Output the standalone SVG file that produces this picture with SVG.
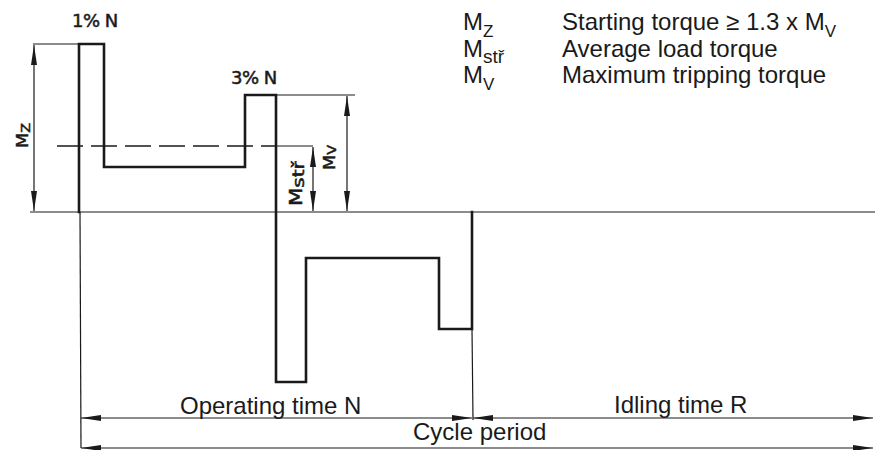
<svg xmlns="http://www.w3.org/2000/svg" width="875" height="450" viewBox="0 0 875 450">
<defs>
<marker id="ah" viewBox="0 0 20 6" refX="20" refY="3" markerWidth="20" markerHeight="6" markerUnits="userSpaceOnUse" orient="auto-start-reverse">
<path d="M0,0 L20,3 L0,6 z" fill="#1a1a1a"/>
</marker>
<style>
.wave{fill:none;stroke:#1a1a1a;stroke-width:2.6;stroke-linejoin:miter;stroke-linecap:square}
.thin{fill:none;stroke:#1a1a1a;stroke-width:1.2}
.dim{fill:none;stroke:#1a1a1a;stroke-width:1.2;marker-start:url(#ah);marker-end:url(#ah)}
.dash{fill:none;stroke:#1a1a1a;stroke-width:1.3;stroke-dasharray:26 8}
.tech{font-family:"DejaVu Sans","Liberation Sans",sans-serif;fill:#1a1a1a;stroke:#1a1a1a;stroke-width:0.5}
.lab{font-family:"Liberation Sans",Arial,sans-serif;font-size:24px;fill:#1a1a1a}
</style>
</defs>
<rect width="875" height="450" fill="#ffffff"/>

<g id="axis">
<path class="thin" d="M30,212 L875,212" stroke-width="1.5"/>
</g>

<g id="waveform">
<path class="wave" d="M79,212 L79,44 L104,44 L104,167 L245,167 L245,95 L276,95 L276,382 L306,382 L306,258 L439,258 L439,329 L472,329 L472,212"/>
</g>

<g id="connectors">
<path class="thin" d="M80,212 L81,448" stroke-width="1.6"/>
<path class="thin" d="M472,329 L473,420"/>
<path class="thin" d="M33,44 L79,44"/>
<path class="thin" d="M276,95 L355,95"/>
<path class="thin" d="M276,146 L313,146"/>
<path class="dash" d="M57,146 L276,146"/>
<path class="dim" d="M34,45 L34,211"/>
<path class="dim" d="M313,147 L313,211"/>
<path class="dim" d="M347,96 L347,211"/>
<path class="dim" d="M81,418 L472,418"/>
<path class="dim" d="M473,418 L873,418"/>
<path class="dim" d="M81,448 L873,448"/>
</g>

<g id="pulse-labels">
<text class="tech" x="72" y="27" font-size="18" letter-spacing="-0.5">1% N</text>
<text class="tech" x="231" y="84" font-size="18" letter-spacing="-0.5">3% N</text>
</g>

<g id="dim-labels">
<text class="tech" font-size="16" transform="translate(28,148) rotate(-90) scale(1.1,1)">M<tspan font-size="13" dy="2">Z</tspan></text>
<text class="tech" font-size="17" transform="translate(302,206) rotate(-90) scale(1.25,1)">M<tspan font-size="16" dy="2">stř</tspan></text>
<text class="tech" font-size="16" transform="translate(335,170) rotate(-90) scale(1.1,1)">M<tspan font-size="13" dy="1">V</tspan></text>
</g>

<g id="legend">
<text class="lab" x="463" y="30">M<tspan font-size="17" dy="7">Z</tspan></text>
<text class="lab" x="463" y="57">M<tspan font-size="19" dy="6">stř</tspan></text>
<text class="lab" x="463" y="83">M<tspan font-size="17" dy="7">V</tspan></text>
<text class="lab" x="562" y="30">Starting torque ≥ 1.3 x M<tspan font-size="17" dy="7">V</tspan></text>
<text class="lab" x="562" y="57">Average load torque</text>
<text class="lab" x="562" y="83">Maximum tripping torque</text>
</g>

<g id="time-labels">
<text class="lab" x="180" y="414">Operating time N</text>
<text class="lab" x="614" y="413">Idling time R</text>
<text class="lab" x="413" y="440">Cycle period</text>
</g>
</svg>
